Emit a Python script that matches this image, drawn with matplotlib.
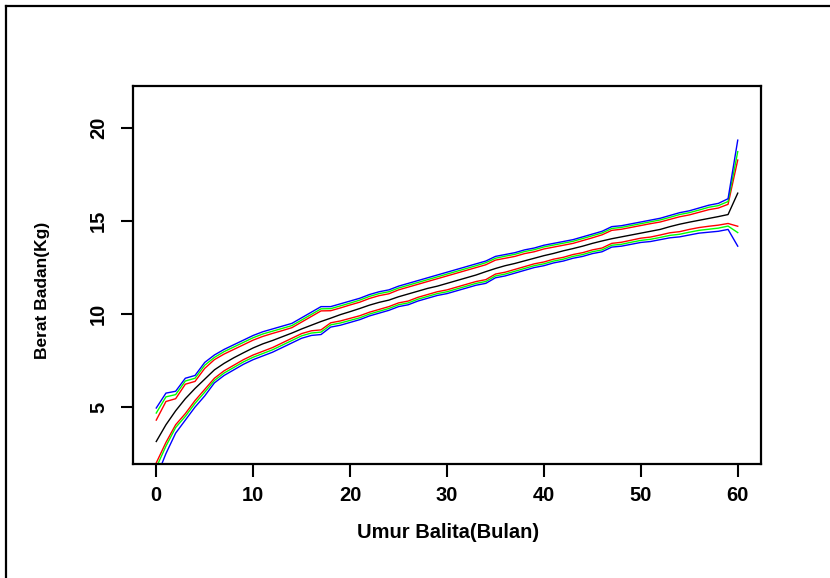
import numpy as np
import matplotlib
matplotlib.use("Agg")
import matplotlib.pyplot as plt
from matplotlib.lines import Line2D

# umur balita (bulan) 0..60
months = list(range(0, 61))

# garis tengah (hitam)
median = [3.15, 4.05, 4.8, 5.45, 6.0, 6.5, 7.0, 7.35, 7.65, 7.92,
          8.18, 8.4, 8.58, 8.78, 8.98, 9.2, 9.4, 9.6, 9.78, 9.97,
          10.13, 10.3, 10.48, 10.63, 10.75, 10.93, 11.08, 11.23, 11.38, 11.5,
          11.65, 11.8, 11.95, 12.1, 12.28, 12.45, 12.6, 12.72, 12.86, 13.0,
          13.14, 13.26, 13.4, 13.52, 13.65, 13.8, 13.93, 14.05, 14.15, 14.25,
          14.35, 14.45, 14.55, 14.7, 14.83, 14.94, 15.04, 15.14, 15.24, 15.35,
          16.5]

# batas atas
upper_red = [4.3, 5.3, 5.45, 6.23, 6.38, 7.08, 7.55, 7.85, 8.1, 8.35,
             8.6, 8.8, 8.96, 9.11, 9.27, 9.57, 9.87, 10.17, 10.18, 10.33,
             10.49, 10.64, 10.84, 10.99, 11.09, 11.3, 11.45, 11.6, 11.75, 11.9,
             12.05, 12.2, 12.35, 12.5, 12.65, 12.9, 13.0, 13.1, 13.25, 13.35,
             13.5, 13.6, 13.7, 13.8, 13.95, 14.1, 14.26, 14.5, 14.56, 14.66,
             14.76, 14.86, 14.95, 15.09, 15.23, 15.33, 15.47, 15.61, 15.7, 15.9,
             18.28]
upper_green = [4.68, 5.55, 5.67, 6.4, 6.55, 7.25, 7.67, 7.98, 8.23, 8.48,
               8.73, 8.93, 9.08, 9.23, 9.38, 9.68, 9.98, 10.28, 10.29, 10.44,
               10.59, 10.75, 10.95, 11.1, 11.2, 11.4, 11.55, 11.7, 11.85, 12.0,
               12.15, 12.3, 12.45, 12.6, 12.76, 13.0, 13.11, 13.21, 13.36, 13.46,
               13.61, 13.71, 13.81, 13.91, 14.06, 14.21, 14.36, 14.6, 14.66, 14.76,
               14.86, 14.96, 15.06, 15.2, 15.35, 15.45, 15.59, 15.74, 15.83, 16.05,
               18.73]
upper_blue = [4.95, 5.75, 5.85, 6.55, 6.7, 7.4, 7.8, 8.1, 8.35, 8.6,
              8.85, 9.05, 9.2, 9.35, 9.5, 9.8, 10.1, 10.4, 10.4, 10.55,
              10.7, 10.85, 11.05, 11.2, 11.3, 11.5, 11.65, 11.8, 11.95, 12.1,
              12.25, 12.4, 12.55, 12.7, 12.85, 13.1, 13.2, 13.3, 13.45, 13.55,
              13.7, 13.8, 13.9, 14.0, 14.15, 14.3, 14.45, 14.7, 14.75, 14.85,
              14.95, 15.05, 15.15, 15.3, 15.45, 15.55, 15.7, 15.85, 15.95, 16.2,
              19.35]

# batas bawah
lower_red = [2.0, 3.1, 4.05, 4.65, 5.35, 5.95, 6.55, 6.95, 7.25, 7.55,
             7.8, 8.0, 8.2, 8.45, 8.7, 8.95, 9.1, 9.15, 9.53, 9.63,
             9.77, 9.91, 10.1, 10.25, 10.4, 10.6, 10.7, 10.9, 11.05, 11.2,
             11.3, 11.45, 11.6, 11.75, 11.85, 12.15, 12.25, 12.4, 12.55, 12.7,
             12.8, 12.95, 13.05, 13.2, 13.3, 13.45, 13.55, 13.8, 13.86, 13.97,
             14.08, 14.14, 14.25, 14.37, 14.43, 14.55, 14.65, 14.72, 14.78, 14.87,
             14.72]
lower_green = [1.75, 2.9, 3.9, 4.5, 5.2, 5.8, 6.43, 6.83, 7.13, 7.43,
               7.68, 7.88, 8.08, 8.33, 8.58, 8.83, 8.98, 9.03, 9.42, 9.52,
               9.66, 9.8, 10.0, 10.15, 10.3, 10.5, 10.6, 10.8, 10.95, 11.1,
               11.2, 11.35, 11.5, 11.65, 11.75, 12.05, 12.15, 12.3, 12.45, 12.6,
               12.7, 12.85, 12.95, 13.1, 13.2, 13.35, 13.45, 13.7, 13.75, 13.86,
               13.96, 14.02, 14.12, 14.23, 14.29, 14.4, 14.5, 14.56, 14.62, 14.73,
               14.38]
lower_blue = [1.2, 2.5, 3.6, 4.3, 5.0, 5.6, 6.3, 6.7, 7.0, 7.3,
              7.55, 7.75, 7.95, 8.2, 8.45, 8.7, 8.85, 8.9, 9.3, 9.4,
              9.55, 9.7, 9.9, 10.05, 10.2, 10.4, 10.5, 10.7, 10.85, 11.0,
              11.1, 11.25, 11.4, 11.55, 11.65, 11.95, 12.05, 12.2, 12.35, 12.5,
              12.6, 12.75, 12.85, 13.0, 13.1, 13.25, 13.35, 13.6, 13.65, 13.75,
              13.85, 13.9, 14.0, 14.1, 14.15, 14.25, 14.35, 14.4, 14.45, 14.55,
              13.65]

xticks = [0, 10, 20, 30, 40, 50, 60]
yticks = [5, 10, 15, 20]

plt.rcParams['font.family'] = ['Liberation Sans', 'DejaVu Sans']

fig = plt.figure(figsize=(8.3, 5.78), dpi=100)
ax = fig.add_axes([133/830, 1 - 464/578, 628/830, 378/578])

ax.plot(months, median, color='black', lw=1.0)
ax.plot(months, upper_red, color='red', lw=1.0)
ax.plot(months, lower_red, color='red', lw=1.0)
ax.plot(months, upper_green, color='#00ff00', lw=1.0)
ax.plot(months, lower_green, color='#00ff00', lw=1.0)
ax.plot(months, upper_blue, color='blue', lw=1.0)
ax.plot(months, lower_blue, color='blue', lw=1.0)

ax.set_xlim(-2.4, 62.4)
ax.set_ylim(1.94, 22.26)
ax.set_xticks(xticks)
ax.set_yticks(yticks)
ax.set_xticklabels([str(t) for t in xticks], fontsize=14.5, fontweight='bold')
ax.set_yticklabels([str(t) for t in yticks], fontsize=14.5, fontweight='bold',
                   rotation=90, va='center')
ax.tick_params(direction='out', length=9, width=1.5, pad=7)
ax.tick_params(axis='y', pad=9)
for sp in ax.spines.values():
    sp.set_linewidth(1.6)

fig.text(448/830, 1 - 532/578, 'Umur Balita(Bulan)', ha='center', va='center',
         fontsize=14.5, fontweight='bold')
fig.text(42/830, 1 - 290/578, 'Berat Badan(Kg)', ha='center', va='center',
         rotation=90, fontsize=12.5, fontweight='bold')

# bingkai luar
fig.add_artist(Line2D([6/830, 6/830], [0, 1 - 6/578], color='black', lw=1.6,
                      transform=fig.transFigure))
fig.add_artist(Line2D([6/830, 1], [1 - 6/578, 1 - 6/578], color='black', lw=1.6,
                      transform=fig.transFigure))

fig.savefig('out.png', dpi=100)
